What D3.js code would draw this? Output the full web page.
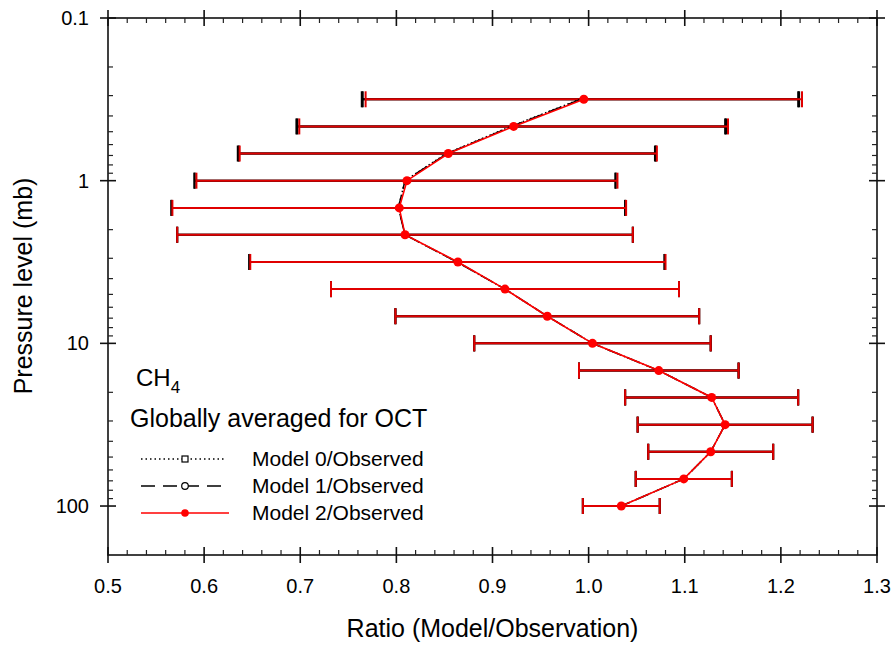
<!DOCTYPE html>
<html>
<head>
<meta charset="utf-8">
<script src="https://cdn.jsdelivr.net/npm/d3@7"></script>
<style>
  body { margin: 0; background: #fff; }
  text { font-family: Arial, "Liberation Sans", sans-serif; }
</style>
</head>
<body>
<script>
// pressure levels (mb) and ratios
const levels = [0.316, 0.464, 0.681, 1, 1.47, 2.15, 3.16, 4.64, 6.81, 10, 14.7, 21.5, 31.6, 46.4, 68.1, 100]
const model0 = [0.991, 0.919, 0.852, 0.809, 0.802, 0.809, 0.863, 0.913, 0.957, 1.004, 1.073, 1.128, 1.142, 1.127, 1.099, 1.034]
const model1 = [0.992, 0.920, 0.853, 0.809, 0.802, 0.809, 0.863, 0.913, 0.957, 1.004, 1.073, 1.128, 1.142, 1.127, 1.099, 1.034]
const model2 = [0.995, 0.922, 0.854, 0.811, 0.803, 0.809, 0.864, 0.913, 0.957, 1.004, 1.073, 1.128, 1.142, 1.127, 1.099, 1.034]
const err01 = [0.227, 0.223, 0.217, 0.219, 0.236, 0.237, 0.216, 0.181, 0.158, 0.123, 0.083, 0.090, 0.091, 0.065, 0.050, 0.040]
const err2 = [0.227, 0.223, 0.217, 0.219, 0.236, 0.237, 0.216, 0.181, 0.158, 0.123, 0.083, 0.090, 0.091, 0.065, 0.050, 0.040]
const xTicks = [0.5, 0.6, 0.7, 0.8, 0.9, 1.0, 1.1, 1.2, 1.3]
const yTicks = [0.1, 1, 10, 100]
const legendLabels = ['Model 0/Observed', 'Model 1/Observed', 'Model 2/Observed']

let width = 893
let height = 650
let margin = {top: 18, right: 16, bottom: 95, left: 108}

let svg = d3.select('body').append('svg')
    .attr('width', width)
    .attr('height', height)

let x = d3.scaleLinear().domain([0.5, 1.3]).range([margin.left, width - margin.right])
let y = d3.scaleLog().domain([0.1, 200]).range([margin.top, height - margin.bottom])

let x0 = x.range()[0], x1 = x.range()[1]
let y0 = y.range()[0], y1 = y.range()[1]

// minor tick values
let xMinor = d3.range(0.52, 1.3, 0.02).filter(v => Math.abs(v * 10 - Math.round(v * 10)) > 0.01)
let yMinor = []
for (let d of [0.1, 1, 10, 100]) {
    for (let k = 2; k <= 9; k++) {
        if (d * k < 200) yMinor.push(d * k)
    }
}

let axes = svg.append('g').attr('stroke', '#111').attr('stroke-width', 1.6)

// frame
axes.append('rect')
    .attr('x', x0).attr('y', y0)
    .attr('width', x1 - x0).attr('height', y1 - y0)
    .attr('fill', 'none')

// major ticks crossing the frame
axes.selectAll('.xmaj').data(xTicks).enter().append('g')
    .each(function (d) {
        let g = d3.select(this)
        g.append('line').attr('x1', x(d)).attr('x2', x(d)).attr('y1', y0 - 8).attr('y2', y0 + 8)
        g.append('line').attr('x1', x(d)).attr('x2', x(d)).attr('y1', y1 - 8).attr('y2', y1 + 8)
    })
axes.selectAll('.ymaj').data(yTicks).enter().append('g')
    .each(function (d) {
        let g = d3.select(this)
        g.append('line').attr('y1', y(d)).attr('y2', y(d)).attr('x1', x0 - 8).attr('x2', x0 + 8)
        g.append('line').attr('y1', y(d)).attr('y2', y(d)).attr('x1', x1 - 8).attr('x2', x1 + 8)
    })

// minor ticks pointing in
let minor = svg.append('g').attr('stroke', '#222').attr('stroke-width', 1.2)
minor.selectAll('.xmin').data(xMinor).enter().append('g')
    .each(function (d) {
        let g = d3.select(this)
        g.append('line').attr('x1', x(d)).attr('x2', x(d)).attr('y1', y0).attr('y2', y0 + 5)
        g.append('line').attr('x1', x(d)).attr('x2', x(d)).attr('y1', y1).attr('y2', y1 - 5)
    })
minor.selectAll('.ymin').data(yMinor).enter().append('g')
    .each(function (d) {
        let g = d3.select(this)
        g.append('line').attr('y1', y(d)).attr('y2', y(d)).attr('x1', x0).attr('x2', x0 + 5)
        g.append('line').attr('y1', y(d)).attr('y2', y(d)).attr('x1', x1).attr('x2', x1 - 5)
    })

// tick labels
svg.append('g').selectAll('text').data(xTicks).enter().append('text')
    .attr('x', d => x(d)).attr('y', y1 + 38)
    .attr('text-anchor', 'middle')
    .attr('font-size', 20)
    .text(d => d.toFixed(1))
svg.append('g').selectAll('text').data(yTicks).enter().append('text')
    .attr('x', x0 - 19).attr('y', d => y(d) + 7)
    .attr('text-anchor', 'end')
    .attr('font-size', 20)
    .text(d => d3.format('~g')(d))

// axis titles
svg.append('text')
    .attr('x', (x0 + x1) / 2).attr('y', 637)
    .attr('text-anchor', 'middle')
    .attr('font-size', 25)
    .text('Ratio (Model/Observation)')
svg.append('text')
    .attr('transform', 'translate(32,286) rotate(-90)')
    .attr('text-anchor', 'middle')
    .attr('font-size', 25)
    .text('Pressure level (mb)')

let plot = svg.append('g')

function errorBars(vals, errs, color, sw) {
    let g = plot.append('g').attr('stroke', color).attr('stroke-width', sw).attr('fill', 'none')
    levels.forEach((p, i) => {
        let lo = vals[i] - errs[i], hi = vals[i] + errs[i]
        g.append('line').attr('x1', x(lo)).attr('x2', x(hi)).attr('y1', y(p)).attr('y2', y(p))
        g.append('line').attr('x1', x(lo)).attr('x2', x(lo)).attr('y1', y(p) - 8).attr('y2', y(p) + 8)
        g.append('line').attr('x1', x(hi)).attr('x2', x(hi)).attr('y1', y(p) - 8).attr('y2', y(p) + 8)
    })
}

errorBars(model0, err01, '#000', 2)
errorBars(model1, err01, '#000', 2)
errorBars(model2, err2, '#e00000', 2)

let line = d3.line().x(d => x(d[0])).y(d => y(d[1]))

plot.append('path')
    .datum(model0.map((v, i) => [v, levels[i]]))
    .attr('d', line).attr('fill', 'none').attr('stroke', '#000')
    .attr('stroke-width', 1.5).attr('stroke-dasharray', '1.5,2.5')
plot.append('path')
    .datum(model1.map((v, i) => [v, levels[i]]))
    .attr('d', line).attr('fill', 'none').attr('stroke', '#000')
    .attr('stroke-width', 1.5).attr('stroke-dasharray', '14,7')
plot.append('path')
    .datum(model2.map((v, i) => [v, levels[i]]))
    .attr('d', line).attr('fill', 'none').attr('stroke', '#ff0000')
    .attr('stroke-width', 1.6)
plot.append('g').selectAll('circle').data(model2).enter().append('circle')
    .attr('cx', d => x(d)).attr('cy', (d, i) => y(levels[i]))
    .attr('r', 4.5).attr('fill', '#ff0000')

// annotations
let ch = svg.append('text').attr('x', 136).attr('y', 386).attr('font-size', 24)
ch.append('tspan').text('CH')
ch.append('tspan').attr('dy', 7).attr('font-size', 17).text('4')
svg.append('text').attr('x', 130).attr('y', 427).attr('font-size', 25)
    .text('Globally averaged for OCT')

// legend
let legendY = [459, 486, 513]
let lg = svg.append('g')
lg.append('line').attr('x1', 141).attr('x2', 225).attr('y1', legendY[0]).attr('y2', legendY[0])
    .attr('stroke', '#000').attr('stroke-width', 1.4).attr('stroke-dasharray', '1.5,3')
lg.append('rect').attr('x', 182).attr('y', legendY[0] - 3).attr('width', 6).attr('height', 6)
    .attr('fill', '#fff').attr('stroke', '#000').attr('stroke-width', 1.2)
lg.append('line').attr('x1', 141).attr('x2', 221).attr('y1', legendY[1]).attr('y2', legendY[1])
    .attr('stroke', '#000').attr('stroke-width', 1.4).attr('stroke-dasharray', '14,8')
lg.append('circle').attr('cx', 185).attr('cy', legendY[1]).attr('r', 3.3)
    .attr('fill', '#fff').attr('stroke', '#000').attr('stroke-width', 1.2)
lg.append('line').attr('x1', 141).attr('x2', 229).attr('y1', legendY[2]).attr('y2', legendY[2])
    .attr('stroke', '#ff0000').attr('stroke-width', 1.6)
lg.append('circle').attr('cx', 185).attr('cy', legendY[2]).attr('r', 3.8).attr('fill', '#ff0000')
lg.selectAll('text').data(legendLabels).enter().append('text')
    .attr('x', 252).attr('y', (d, i) => legendY[i] + 7)
    .attr('font-size', 21)
    .text(d => d)
</script>
</body>
</html>
